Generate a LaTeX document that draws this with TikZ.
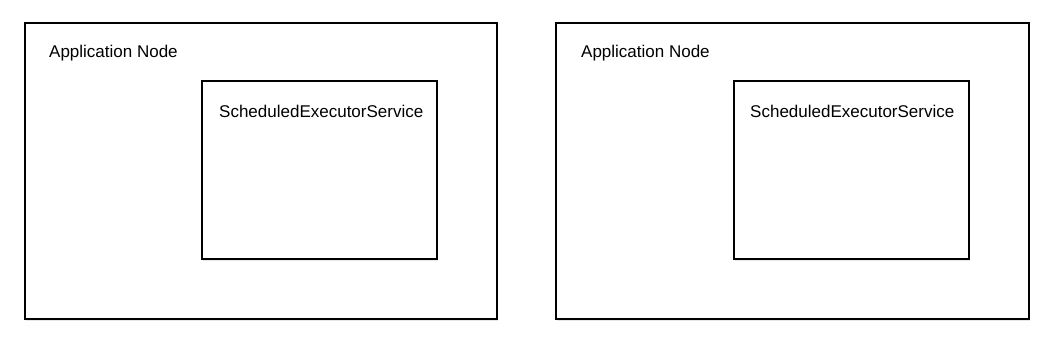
\documentclass[tikz,border=0pt]{standalone}
\usepackage{fontspec}
\setmainfont{Liberation Sans}
\usetikzlibrary{shadows}
\begin{document}
\begin{tikzpicture}[x=1pt,y=-1pt,
  box/.style={draw=black,line width=1.6pt,fill=white,
    drop shadow={shadow xshift=1.5pt,shadow yshift=-2pt,opacity=0.25,fill=black!40}},
  lbl/.style={anchor=base west,inner sep=0pt,font=\fontsize{17}{19}\selectfont}]
\useasboundingbox (0,0) rectangle (1052,341);
\node[box,minimum width=472pt,minimum height=296pt,anchor=north west,inner sep=0pt] (outerL) at (24,22) {};
\node[box,minimum width=235pt,minimum height=178pt,anchor=north west,inner sep=0pt] (innerL) at (201,80) {};
\node[lbl] (appL) at (49,57) {Application Node};
\node[lbl] (sesL) at (219,117) {ScheduledExecutorService};
\node[box,minimum width=473pt,minimum height=296pt,anchor=north west,inner sep=0pt] (outerR) at (555,22) {};
\node[box,minimum width=235pt,minimum height=178pt,anchor=north west,inner sep=0pt] (innerR) at (733,80) {};
\node[lbl] (appR) at (581,57) {Application Node};
\node[lbl] (sesR) at (750,117) {ScheduledExecutorService};
\end{tikzpicture}
\end{document}
